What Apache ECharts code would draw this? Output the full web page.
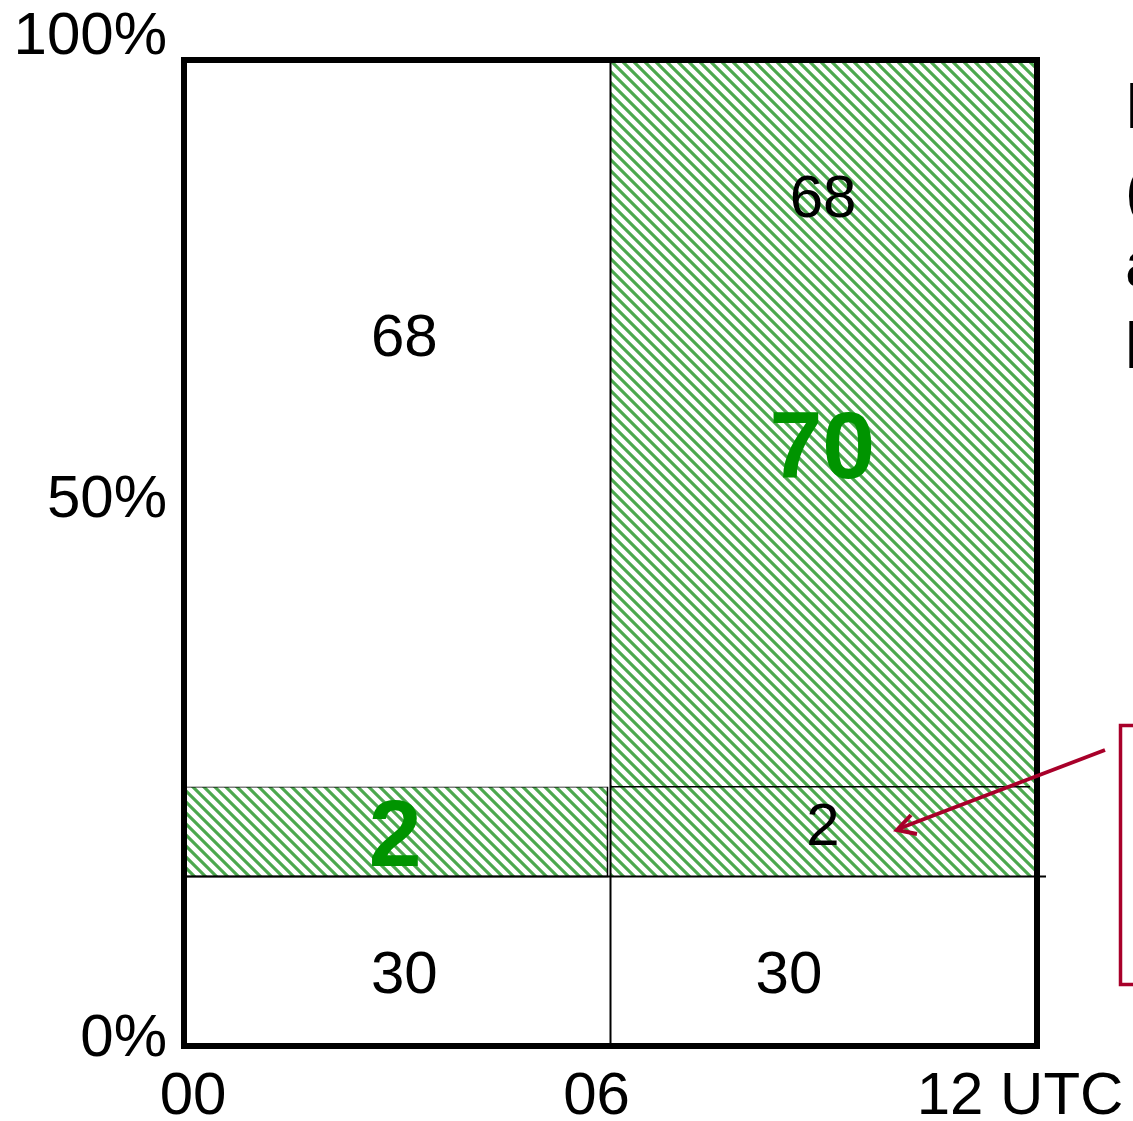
<!DOCTYPE html>
<html>
<head>
<meta charset="utf-8">
<script src="https://cdn.jsdelivr.net/npm/echarts@6/dist/echarts.min.js"></script>
<style>
html,body{margin:0;padding:0;background:#fff;overflow:hidden}
#c{width:1133px;height:1121px}
</style>
</head>
<body>
<div id="c"></div>
<script>
// ---------------- data ----------------
const hourTicks = [0, 6, 12];
const hourLabels = ['00', '06', '12 UTC'];
const pctTicks = [0, 50, 100];
const pctLabels = ['0%', '50%', '100%'];
// band edges of the schematic, as drawn (percent of the axis)
const bandEdges = [0, 17.2, 26.3, 100];
// printed values, bottom band to top band
const firstPeriodValues = [30, 2, 68];   // 00-06
const secondPeriodValues = [30, 2, 68];  // 06-12
const secondPeriodUpper = 70;            // 2 + 68 (hatched area)
// hatched bands per period (index of band)
const firstPeriodHatched = [1];
const secondPeriodHatchedFrom = 1;
// cut-off side text (only first letters visible)
const sideTextLines = ['E', '(', 'a', 'l'];

// ---------------- helpers ----------------
const FONT = "'Liberation Sans', Arial, Helvetica, sans-serif";
const GREEN_TEXT = '#009400';
const HATCH = '#4ca84e';
const RED = '#a8002a';
const HATCH_PERIOD = 11;
const HATCH_WIDTH = 3.2;

// hatch lines ("\" direction) clipped to a rect
function hatchGroup(x, y, w, h) {
  const children = [{ type: 'rect', shape: { x: x, y: y, width: w, height: h }, style: { fill: '#ffffff' } }];
  const p = HATCH_PERIOD;
  const cMin = Math.floor((y - (x + w)) / p) - 1;
  const cMax = Math.ceil((y + h - x) / p) + 1;
  for (let k = cMin; k <= cMax; k++) {
    const c = k * p;
    const xs = Math.max(x, y - c) - 3;
    const xe = Math.min(x + w, y + h - c) + 3;
    if (xe <= xs) continue;
    children.push({
      type: 'line',
      shape: { x1: xs, y1: xs + c, x2: xe, y2: xe + c },
      style: { stroke: HATCH, lineWidth: HATCH_WIDTH }
    });
  }
  return {
    type: 'group',
    clipPath: { type: 'rect', shape: { x: x, y: y, width: w, height: h } },
    children: children
  };
}

// cells [xStart, xEnd, yStart, yEnd, hatched(0/1), column]
const cells = [];
for (let i = 0; i < 3; i++) {
  cells.push([hourTicks[0], hourTicks[1], bandEdges[i], bandEdges[i + 1],
    firstPeriodHatched.includes(i) ? 1 : 0, 0]);
}
cells.push([hourTicks[1], hourTicks[2], bandEdges[0], bandEdges[secondPeriodHatchedFrom], 0, 1]);
cells.push([hourTicks[1], hourTicks[2], bandEdges[secondPeriodHatchedFrom], bandEdges[3], 1, 1]);

// separator lines [x0, y0, x1, y1, kind]
const lines = [
  [hourTicks[1], bandEdges[0], hourTicks[1], bandEdges[3], 0],
  [hourTicks[0], bandEdges[1], hourTicks[2], bandEdges[1], 1],
  [hourTicks[1], bandEdges[2], hourTicks[2], bandEdges[2], 2]
];

// labels: [x, y, text, bold]  (x,y are anchors in axis units)
const labels = [
  [3.1, 7.4, String(firstPeriodValues[0]), 0],
  [2.97, 21.5, String(firstPeriodValues[1]), 1],
  [3.1, 72.0, String(firstPeriodValues[2]), 0],
  [8.51, 7.4, String(secondPeriodValues[0]), 0],
  [8.99, 22.4, String(secondPeriodValues[1]), 0],
  [8.98, 60.9, String(secondPeriodUpper), 1],
  [8.99, 86.1, String(secondPeriodValues[2]), 0]
];

const chart = echarts.init(document.getElementById('c'), null, { renderer: 'canvas' });

const axisLineStyle = { show: true, onZero: false, lineStyle: { color: '#000', width: 6, cap: 'square' } };

const xRich = {
  h0: { fontSize: 60, fontFamily: FONT, color: '#000', lineHeight: 60, padding: [0, 0, 0, 18] },
  h1: { fontSize: 60, fontFamily: FONT, color: '#000', lineHeight: 60, padding: [0, 28, 0, 0] },
  h2: { fontSize: 60, fontFamily: FONT, color: '#000', lineHeight: 60, padding: [0, 34, 0, 0] }
};
const yRich = {
  p0: { fontSize: 60, fontFamily: FONT, color: '#000', lineHeight: 60, padding: [0, 0, 14, 0] },
  p1: { fontSize: 60, fontFamily: FONT, color: '#000', lineHeight: 60, padding: [0, 0, 106, 0] },
  p2: { fontSize: 60, fontFamily: FONT, color: '#000', lineHeight: 60, padding: [0, 0, 46, 0] }
};

const option = {
  animation: false,
  backgroundColor: '#fff',
  grid: { left: 184, right: 96, top: 60, bottom: 75, containLabel: false, outerBoundsMode: 'none' },
  xAxis: [
    {
      type: 'value', min: hourTicks[0], max: hourTicks[2], interval: hourTicks[1] - hourTicks[0],
      position: 'bottom', z: 10,
      axisLine: axisLineStyle, axisTick: { show: false }, splitLine: { show: false },
      axisLabel: {
        margin: 21, showMinLabel: true, showMaxLabel: true, hideOverlap: false,
        formatter: v => { const i = hourTicks.indexOf(v); return '{h' + i + '|' + hourLabels[i] + '}'; },
        rich: xRich
      }
    },
    {
      type: 'value', min: hourTicks[0], max: hourTicks[2], position: 'top', z: 10,
      axisLine: axisLineStyle, axisTick: { show: false }, splitLine: { show: false },
      axisLabel: { show: false }
    }
  ],
  yAxis: [
    {
      type: 'value', min: pctTicks[0], max: pctTicks[2], interval: pctTicks[1] - pctTicks[0],
      position: 'left', z: 10,
      axisLine: axisLineStyle, axisTick: { show: false }, splitLine: { show: false },
      axisLabel: {
        margin: 17, showMinLabel: true, showMaxLabel: true, hideOverlap: false,
        formatter: v => { const i = pctTicks.indexOf(v); return '{p' + i + '|' + pctLabels[i] + '}'; },
        rich: yRich
      }
    },
    {
      type: 'value', min: pctTicks[0], max: pctTicks[2], position: 'right', z: 10,
      axisLine: axisLineStyle, axisTick: { show: false }, splitLine: { show: false },
      axisLabel: { show: false }
    }
  ],
  series: [
    {
      type: 'custom', name: 'cells', xAxisIndex: 0, yAxisIndex: 0, z: 2, clip: false,
      data: cells,
      renderItem: (params, api) => {
        const p0 = api.coord([api.value(0), api.value(2)]);
        const p1 = api.coord([api.value(1), api.value(3)]);
        const hatched = api.value(4) === 1;
        const left = api.value(5) === 0;
        const x = p0[0], y = p1[1];
        let w = p1[0] - p0[0], h = p0[1] - p1[1];
        if (!hatched) {
          return { type: 'rect', shape: { x: x, y: y, width: w, height: h }, style: { fill: '#ffffff' } };
        }
        if (left) {
          w -= 3;
          const g = hatchGroup(x, y, w, h);
          return {
            type: 'group',
            children: [g, { type: 'rect', shape: { x: x, y: y, width: w, height: h },
              style: { fill: 'none', stroke: '#000', lineWidth: 1.5 } }]
          };
        }
        return hatchGroup(x, y, w, h);
      }
    },
    {
      type: 'custom', name: 'lines', xAxisIndex: 0, yAxisIndex: 0, z: 3, clip: false,
      data: lines,
      renderItem: (params, api) => {
        const a = api.coord([api.value(0), api.value(1)]);
        const b = api.coord([api.value(2), api.value(3)]);
        const kind = api.value(4);
        let x2 = b[0];
        if (kind === 1) x2 += 9;
        if (kind === 2) x2 -= 7;
        return {
          type: 'line',
          shape: { x1: a[0], y1: a[1], x2: x2, y2: b[1] },
          style: { stroke: '#000', lineWidth: kind === 2 ? 1.5 : 2 }
        };
      }
    },
    {
      type: 'custom', name: 'labels', xAxisIndex: 0, yAxisIndex: 0, z: 4, clip: false,
      data: labels,
      renderItem: (params, api) => {
        const p = api.coord([api.value(0), api.value(1)]);
        const d = labels[params.dataIndex];
        const bold = d[3] === 1;
        return {
          type: 'text', x: p[0], y: p[1] + (bold ? 6 : 3),
          style: {
            text: d[2],
            font: (bold ? 'bold 95px ' : '60px ') + FONT,
            fill: bold ? GREEN_TEXT : '#000',
            align: 'center', verticalAlign: 'middle'
          }
        };
      }
    }
  ],
  graphic: [
    { type: 'rect', z: 20, shape: { x: 1120.5, y: 725.5, width: 100, height: 259 },
      style: { fill: 'none', stroke: RED, lineWidth: 3.5 } },
    { type: 'line', z: 20, shape: { x1: 1105, y1: 750, x2: 898, y2: 829 },
      style: { stroke: RED, lineWidth: 4 } },
    { type: 'polyline', z: 20, shape: { points: [[917, 834], [897, 830], [911, 815]] },
      style: { stroke: RED, lineWidth: 4, fill: 'none', lineJoin: 'miter' } },
    ...sideTextLines.map((t, i) => ({
      type: 'text', z: 20, x: 1125, y: [110, 195, 268, 350][i],
      style: { text: t, font: '64px ' + FONT, fill: '#000', align: 'left', verticalAlign: 'middle' }
    }))
  ]
};
chart.setOption(option);
</script>
</body>
</html>
